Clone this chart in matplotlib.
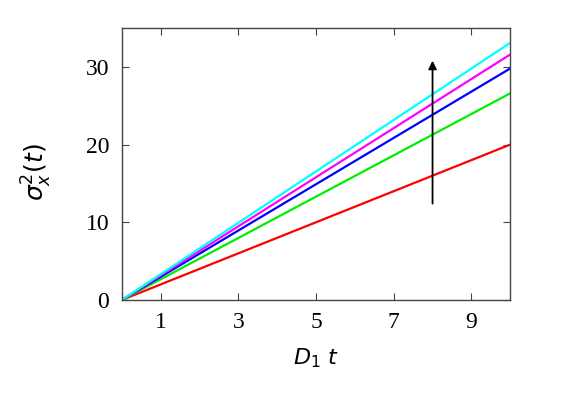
import matplotlib
matplotlib.use("Agg")
from matplotlib import pyplot as plt
import numpy as np

plt.rcParams['mathtext.fontset'] = 'dejavusans'

# end values at D1 t = 10 for each curve (straight lines from origin)
t_end = [0, 10]
end_vals = [20.0, 26.6, 29.8, 31.6, 33.1]
colors = ['#ff0000', '#00ee00', '#0000ff', '#ff00ff', '#00ffff']
xticks = [1, 3, 5, 7, 9]
yticks = [0, 10, 20, 30]

fig = plt.figure(figsize=(5.72, 4.01), dpi=100)
ax = fig.add_axes([0.213, 0.252, 0.679, 0.678])

for v, c in zip(end_vals, colors):
    ax.plot(t_end, [0, v], color=c, lw=1.6)

ax.annotate('', xy=(8, 30.8), xytext=(8, 12.4),
            arrowprops=dict(arrowstyle='-|>', color='black', lw=1.3,
                            mutation_scale=12, shrinkA=0, shrinkB=0))

ax.set_xlim(0, 10)
ax.set_ylim(0, 35)
ax.set_xticks(xticks)
ax.set_yticks(yticks)
ax.tick_params(direction='in', top=True, right=True, length=5,
               width=0.8, color='#444444', pad=9)
for lab in ax.get_xticklabels() + ax.get_yticklabels():
    lab.set_family('Liberation Serif')
    lab.set_fontsize(17)
for s in ax.spines.values():
    s.set_color('#444444')
    s.set_linewidth(1.0)

ax.set_xlabel(r'$D_1\ t$', fontsize=16)
ax.xaxis.set_label_coords(0.5, -0.17)
ax.set_ylabel(r'$\sigma_x^2(t)$', fontsize=18)
ax.yaxis.set_label_coords(-0.175, 0.47)

fig.savefig('out.png', dpi=100)
